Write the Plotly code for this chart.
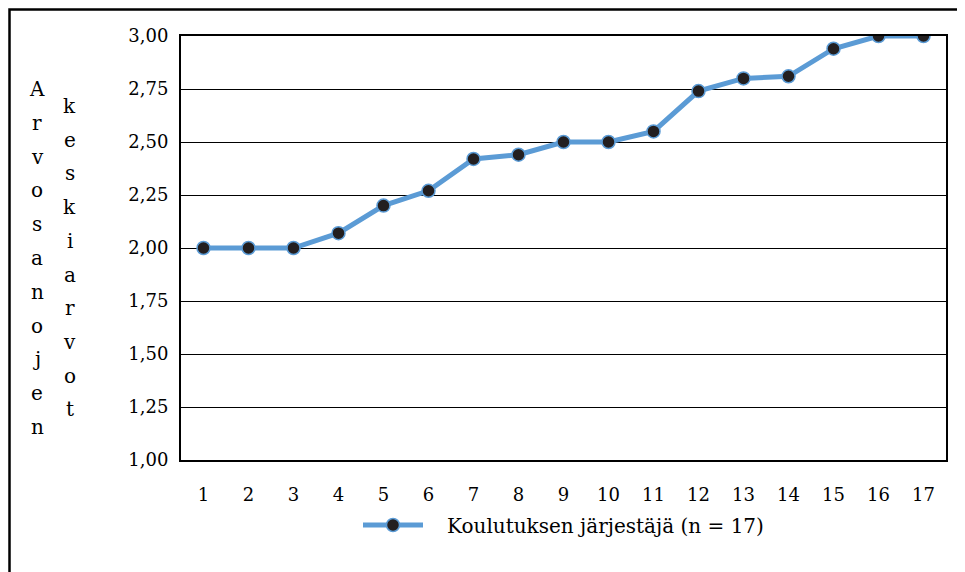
import plotly.graph_objects as go

providers = list(range(1, 18))
averages = [2.00, 2.00, 2.00, 2.07, 2.20, 2.27, 2.42, 2.44, 2.50, 2.50,
            2.55, 2.74, 2.80, 2.81, 2.94, 3.00, 3.00]
series_name = "Koulutuksen järjestäjä (n = 17)"
title_col1 = "Arvosanojen"
title_col2 = "keskiarvot"

# page is drawn with an 8px body margin, so work in page pixels and shift
OFF = 8
W, H = 965 - OFF, 572 - OFF
L, R, T, B = 181 - OFF, 19, 36 - OFF, 112
pw, ph = W - L - R, H - T - B

def px_x(x):
    return (x - OFF - L) / pw

def px_y(y):
    return (H - B - (y - OFF)) / ph

font = "DejaVu Serif"

fig = go.Figure()
fig.add_trace(go.Scatter(
    x=providers, y=averages, mode="lines+markers",
    name="\u00a0\u00a0\u00a0" + series_name,
    line=dict(color="#5B9BD5", width=5),
    marker=dict(color="#231F20", size=13, line=dict(color="#5B9BD5", width=1.5)),
))

annotations = []
for i, ch in enumerate(title_col1):
    annotations.append(dict(x=px_x(37), y=px_y(95 + i * 33.8 - 6), xref="paper", yref="paper",
                            xanchor="center", yanchor="middle",
                            text=ch, showarrow=False, font=dict(size=20, color="black")))
for i, ch in enumerate(title_col2):
    annotations.append(dict(x=px_x(70), y=px_y(112 + i * 33.7 - 6), xref="paper", yref="paper",
                            xanchor="center", yanchor="middle",
                            text=ch, showarrow=False, font=dict(size=20, color="black")))

fig.update_layout(
    width=W, height=H,
    margin=dict(l=L, r=R, t=T, b=B),
    paper_bgcolor="white", plot_bgcolor="white",
    font=dict(family=font, size=18, color="black"),
    separators=", ",
    showlegend=True,
    legend=dict(orientation="h", x=px_x(358), xanchor="left", y=px_y(525), yanchor="middle",
                font=dict(size=20), itemwidth=60),
    annotations=annotations,
    shapes=[dict(type="rect", xref="paper", yref="paper",
                 x0=px_x(9.5), x1=px_x(990), y0=px_y(600), y1=px_y(9.5),
                 line=dict(color="black", width=2.5), layer="below")],
)
fig.update_xaxes(range=[0.5, 17.5], tickmode="array", tickvals=providers,
                 showgrid=False, showline=True, linecolor="black", linewidth=2,
                 mirror=True, ticks="", ticklabelstandoff=17, zeroline=False)
fig.update_yaxes(range=[1, 3], dtick=0.25, tickformat=".2f",
                 showgrid=True, gridcolor="black", gridwidth=1.3,
                 showline=True, linecolor="black", linewidth=2,
                 mirror=True, ticks="", ticklabelstandoff=7, zeroline=False)

fig.write_html("out.html")
